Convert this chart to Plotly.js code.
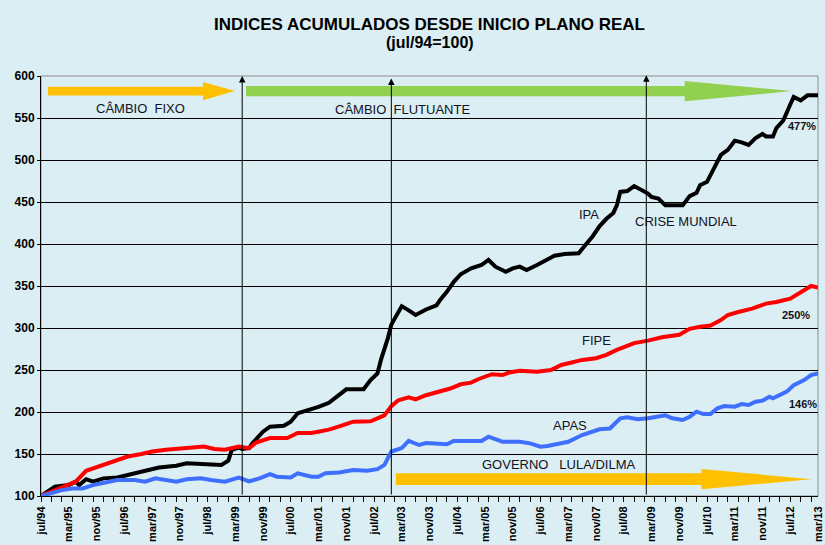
<!DOCTYPE html>
<html>
<head>
<meta charset="utf-8">
<script src="https://cdn.plot.ly/plotly-3.0.1.min.js"></script>
<style>
  html, body { margin: 0; padding: 0; background: #DAEEF3; }
  #chart { width: 825px; height: 545px; }
</style>
</head>
<body>
<div id="chart"></div>
<script>
// months counted from jul/94 (= 0)
const tickLabels = ['jul/94','mar/95','nov/95','jul/96','mar/97','nov/97','jul/98','mar/99','nov/99','jul/00',
  'mar/01','nov/01','jul/02','mar/03','nov/03','jul/04','mar/05','nov/05','jul/06','mar/07','nov/07','jul/08',
  'mar/09','nov/09','jul/10','mar/11','nov/11','jul/12','mar/13'];

const ipaMonths = [0,4,8,10,11,13,15,18,22,26,30,34,39,42,52,54,55,57,58,60,61,64,66,70,72,74,76,78,80,83,85,88,93,95,97,98,
  100,101,102,104,106,108,111,113,114,115,117,119,121,124,127,129,131,134,136,138,140,143,145,148,151,155,157,159,161,163,
  165,166,167,169,171,173,175,176,178,180,185,187,189,190,192,194,195,196,198,200,202,204,206,208,209,211,212,214,216,217,
  219,221,224];
const ipaValues = [100,111,113,117,113,120,117,121,122,126,129,134,136,139,137,142,155,157.5,156,157,163,176.5,182.5,183.7,188.5,198.5,201,203,206,211,218,227,227,238,246,262,
  288,304,311.5,326,321,315.5,322,326,327,333,343,355,364,371,375,381,373,367,371,373,369,375,379,386,388,389,399,409,421,430,
  437,446,462,463,469,464,460,456,454,446,446,457,461,470,474,490,498,506,512,523,521,518,526,531,528,528,538,547,566,575,
  571,577,577];

const fipeMonths = [0,5,10,13,16,19,22,25,29,32,36,39,43,47,50,53,57,60,62,66,71,74,78,83,86,90,95,99,101,103,106,108,111,
  115,116,118,121,124,126,128,130,133,135,138,143,147,150,153,156,160,163,166,170,171,175,179,184,187,190,193,196,198,201,
  205,209,212,216,219,222,224];
const fipeValues = [100,109,117,130,134,139,143,147,150,153,155,156,157,159,156,155,159,157,163.5,169,169,175,175,179,183,188.5,189,196,207,214,217.5,215,220,
  224,225.5,228,233,235,239,242,245,244,247,249,248,250,256,259,262,264,268,274,280,282,285,289,292,299,301.5,303,309.5,315.5,319,
  323,329,331,335,342.5,350,348];

const apasMonths = [0,6,9,12,15,18,22,27,30,33,36,39,42,46,49,53,57,60,63,66,68,72,74,78,80,82,86,90,94,97,99,101,104,106,
  109,111,117,119,127,129,133,138,141,144,146,150,152,156,158,161,164,167,169,172,175,177,180,182,185,187,189,191,193,195,
  197,200,202,204,206,208,210,211,213,215,217,220,222,224];
const apasValues = [100,107,109,109,113,116,119,119,117,121,119,117,120,121,119,117,122,117.5,121,126,123,122,127,123,123,127,128,131,130,132,137,153,157,165.7,
  160.7,163,161.5,165.5,165.5,170.6,164.6,164.6,162.7,158.7,159.5,162.7,164.6,172.6,175.4,179.4,180.4,192.5,193.7,191.3,192.5,193.7,196,192.5,190.5,194.4,200.4,197.6,197.6,204.4,
  207,206.3,209.5,208.3,212.3,213.5,218.2,216.3,220.2,224.2,232,238,244,246];

// vertical event markers (month, arrow tip value)
const eventMonths = [58, 101, 174.5];
const eventTops = [600, 597, 601];

const labelFont = { family: 'Liberation Sans, Arial, sans-serif', size: 13, color: '#111122' };
const pctFont = { family: 'Liberation Sans, Arial, sans-serif', size: 11, color: '#111122', weight: 'bold' };

function blockArrow( x0, xHead, xTip, yc, shaftH, headH, color ) {
  const s = shaftH / 2;
  const h = headH / 2;
  return {
    type: 'path', xref: 'x', yref: 'y', layer: 'above',
    path: 'M ' + x0 + ',' + (yc + s) + ' L ' + xHead + ',' + (yc + s) + ' L ' + xHead + ',' + (yc + h) +
          ' L ' + xTip + ',' + yc + ' L ' + xHead + ',' + (yc - h) + ' L ' + xHead + ',' + (yc - s) +
          ' L ' + x0 + ',' + (yc - s) + ' Z',
    fillcolor: color, line: { width: 0 }
  };
}

const data = [
  { x: ipaMonths, y: ipaValues, mode: 'lines', name: 'IPA', line: { color: '#000000', width: 4 } },
  { x: fipeMonths, y: fipeValues, mode: 'lines', name: 'FIPE', line: { color: '#FF0000', width: 4 } },
  { x: apasMonths, y: apasValues, mode: 'lines', name: 'APAS', line: { color: '#3F6FFF', width: 4 } }
];

const annotations = [
  { x: 28.8, y: 561.5, text: 'CÂMBIO  FIXO', font: labelFont },
  { x: 104.2, y: 560.7, text: 'CÂMBIO  FLUTUANTE', font: labelFont },
  { x: 158.1, y: 435.4, text: 'IPA', font: labelFont },
  { x: 185.9, y: 426.5, text: 'CRISE MUNDIAL', font: labelFont },
  { x: 160.1, y: 284.9, text: 'FIPE', font: labelFont },
  { x: 152.4, y: 183.7, text: 'APAS', font: labelFont },
  { x: 149.1, y: 138.1, text: 'GOVERNO   LULA/DILMA', font: labelFont },
  { x: 219.3, y: 540.5, text: '477%', font: pctFont },
  { x: 217.6, y: 315.5, text: '250%', font: pctFont },
  { x: 219.7, y: 209.2, text: '146%', font: pctFont }
].map(a => Object.assign({ xref: 'x', yref: 'y', showarrow: false }, a));

// second title line
annotations.push({
  x: 0.5, y: 1.0786, xref: 'paper', yref: 'paper', yanchor: 'middle', showarrow: false,
  text: '<b>(jul/94=100)</b>',
  font: { family: 'Liberation Sans, Arial, sans-serif', size: 16, color: '#000000' }
});

for( let i = 0; i < eventMonths.length; i++ ) {
  annotations.push({
    x: eventMonths[i], y: eventTops[i], ax: eventMonths[i], ay: 100,
    xref: 'x', yref: 'y', axref: 'x', ayref: 'y',
    text: '', showarrow: true, arrowhead: 2, arrowsize: 1.3, arrowwidth: 1, arrowcolor: '#000000'
  });
}

const shapes = [
  blockArrow(2, 46.7, 55.9, 582, 10.5, 21.5, '#FFC000'),
  blockArrow(59.1, 185.6, 216.3, 582, 12, 24, '#92D050'),
  blockArrow(102.3, 190.4, 222.1, 120, 14, 24, '#FFC000'),
  { type: 'rect', xref: 'paper', yref: 'paper', x0: 0, x1: 1, y0: 0, y1: 1,
    line: { color: '#8C8C8C', width: 1 }, layer: 'below' }
];

const layout = {
  width: 825,
  height: 545,
  paper_bgcolor: '#DAEEF3',
  plot_bgcolor: '#DAEEF3',
  showlegend: false,
  margin: { l: 41, r: 7, t: 76, b: 49 },
  title: {
    text: '<b>INDICES ACUMULADOS DESDE INICIO PLANO REAL</b>',
    font: { family: 'Liberation Sans, Arial, sans-serif', size: 17, color: '#000000' },
    x: 0.5, xref: 'paper', y: 0.956, yref: 'container', yanchor: 'middle'
  },
  xaxis: {
    range: [0, 224],
    tickmode: 'array',
    tickvals: tickLabels.map((_, i) => i * 8),
    ticktext: tickLabels,
    tickangle: -90,
    ticks: '',
    ticklabelstandoff: 5,
    tickfont: { family: 'Liberation Sans, Arial, sans-serif', size: 11, color: '#000000', weight: 'bold' },
    showgrid: false,
    zeroline: false,
    showline: true,
    linecolor: '#000000',
    linewidth: 1,
    minor: { tickmode: 'linear', tick0: 0, dtick: 3, ticks: 'outside', ticklen: 5, tickcolor: '#000000', showgrid: false }
  },
  yaxis: {
    range: [100, 600],
    dtick: 50,
    ticks: 'outside',
    ticklen: 3,
    tickcolor: '#000000',
    tickfont: { family: 'Liberation Sans, Arial, sans-serif', size: 12, color: '#000000', weight: 'bold' },
    gridcolor: '#000000',
    gridwidth: 1,
    zeroline: false,
    showline: true,
    linecolor: '#000000',
    linewidth: 1
  },
  annotations: annotations,
  shapes: shapes
};

Plotly.newPlot('chart', data, layout, { displayModeBar: false, staticPlot: true });
</script>
</body>
</html>
